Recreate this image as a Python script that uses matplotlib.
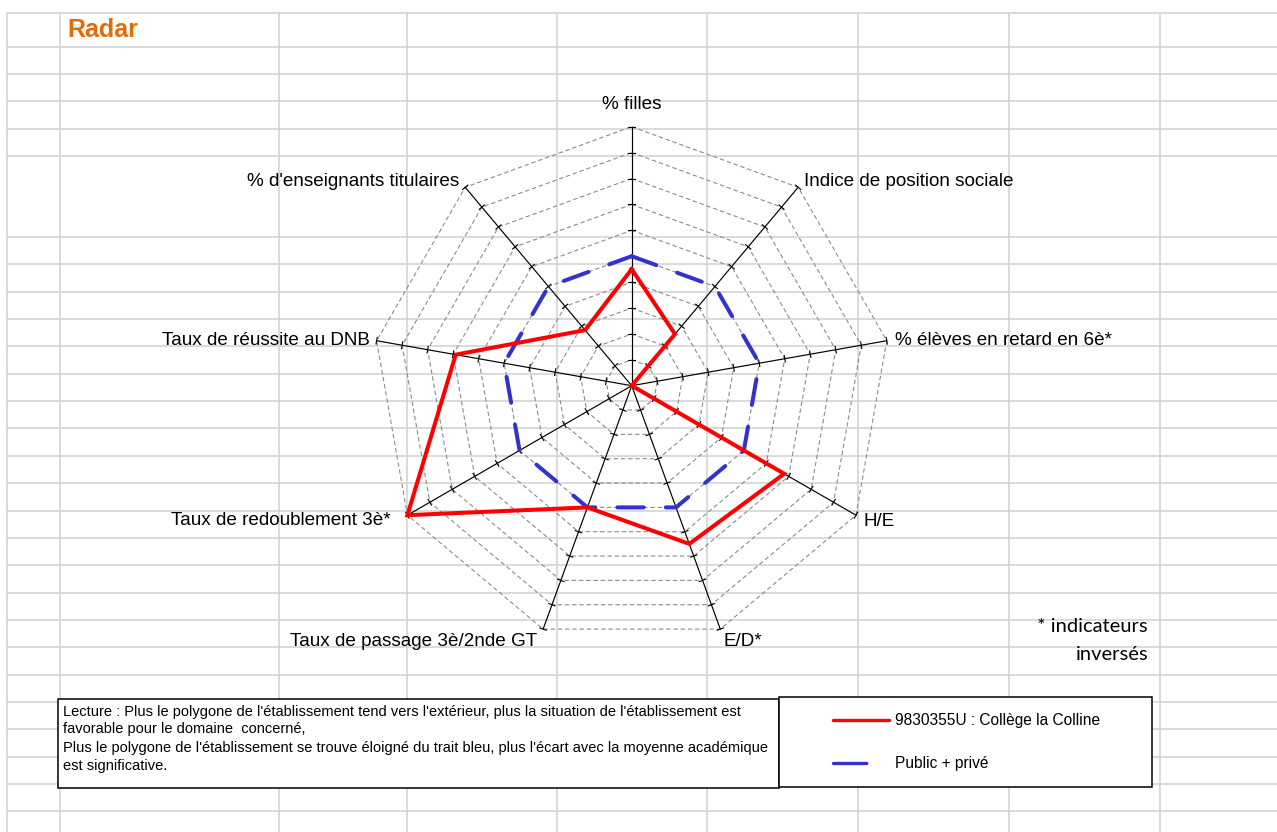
"""
Radar chart of one college vs the academy average, drawn over a spreadsheet-like grid.
"""

import numpy as np
import matplotlib
matplotlib.use("Agg")
import matplotlib.pyplot as plt
from matplotlib.lines import Line2D
from matplotlib.patches import Rectangle

# ── Data ───────────────────────────────────────────────────────────────────────
AXIS_LABELS = [
    "% filles",
    "Indice de position sociale",
    "% élèves en retard en 6è*",
    "H/E",
    "E/D*",
    "Taux de passage 3è/2nde GT",
    "Taux de redoublement 3è*",
    "Taux de réussite au DNB",
    "% d'enseignants titulaires",
]
COLLEGE_VALUES  = [4.5, 2.6, 0.0, 6.8, 6.5, 5.0, 10.0, 6.9, 2.8]
ACADEMIE_VALUES = [5.0, 5.0, 5.0, 5.0, 5.0, 5.0, 5.0, 5.0, 5.0]
RINGS           = [1, 2, 3, 4, 5, 6, 7, 8, 9, 10]
SERIES_NAMES    = ["9830355U : Collège la Colline", "Public + privé"]

TITLE      = "Radar"
FOOTNOTE   = ["* indicateurs", "inversés"]
LECTURE    = [
    "Lecture : Plus le polygone de l'établissement tend vers l'extérieur, plus la situation de l'établissement est",
    "favorable pour le domaine  concerné,",
    "Plus le polygone de l'établissement se trouve éloigné du trait bleu, plus l'écart avec la moyenne académique",
    "est significative.",
]

# ── Layout / style ─────────────────────────────────────────────────────────────
W, H      = 1277, 832
CX, CY, R = 631.7, 385.7, 259.0
RMAX      = 10

RED    = "#FF0000"
BLUE   = "#3333CC"
ORANGE = "#E36C0A"
GRID   = "#D4D4D4"

# label offsets from the end of each spoke (pixels, image y down) + alignment
LABEL_OFFSETS = [
    (0, -22, "center"),
    (6, -6, "left"),
    (8, 0, "left"),
    (7, 6, "left"),
    (3, 12, "left"),
    (-6, 12, "right"),
    (-17, 5, "right"),
    (-7, 0, "right"),
    (-6, -6, "right"),
]

plt.rcParams["font.family"] = ["Liberation Sans", "DejaVu Sans"]


def px_rect(x0, y0, x1, y1):
    """Pixel box (image coords) -> figure fraction rect."""
    return [x0 / W, 1 - y1 / H, (x1 - x0) / W, (y1 - y0) / H]


def draw_sheet(bg):
    """Spreadsheet cell grid behind everything."""
    rows = [13.3] + [46.7 + 27.35 * k for k in range(5)] + [237.0 + 27.35 * k for k in range(23)]
    cols = [7.3, 60.3, 279.3, 406.7, 556.5, 707.3, 858.2, 1009.0, 1160.0]
    bg.hlines(rows, 7.3, W, color=GRID, lw=1.2, zorder=0)
    bg.vlines(cols, 13.3, H, color=GRID, lw=1.2, zorder=0)


def draw_radar(ax):
    n      = len(AXIS_LABELS)
    theta  = np.arange(n) * 2 * np.pi / n
    closed = np.append(theta, theta[0])

    # ring polygons
    for k in RINGS:
        ax.plot(closed, [k] * (n + 1), color="#8C8C8C", lw=0.8,
                linestyle=(0, (4, 2.5)), clip_on=False, zorder=1)

    # spokes with small cross ticks
    h = 0.13
    for t in theta:
        ax.plot([t, t], [0, RMAX], color="black", lw=0.85, clip_on=False, zorder=2)
        for k in RINGS:
            a  = np.arctan(h / k)
            rr = np.hypot(k, h)
            ax.plot([t - a, t + a], [rr, rr], color="black", lw=0.8,
                    clip_on=False, zorder=2)

    # series
    ax.plot(closed, ACADEMIE_VALUES + ACADEMIE_VALUES[:1], color=BLUE, lw=2.9,
            linestyle=(0, (6.5, 5.5)), dash_capstyle="round", clip_on=False, zorder=4)
    ax.plot(closed, COLLEGE_VALUES + COLLEGE_VALUES[:1], color=RED, lw=2.9,
            solid_joinstyle="miter", clip_on=False, zorder=5)

    # axis labels
    for t, label, (dx, dy, ha) in zip(theta, AXIS_LABELS, LABEL_OFFSETS):
        ax.annotate(label, xy=(t, RMAX), xytext=(dx, -dy), textcoords="offset pixels",
                    ha=ha, va="center", fontsize=13.6, annotation_clip=False)


def main():
    fig = plt.figure(figsize=(W / 100, H / 100), dpi=100)
    fig.patch.set_facecolor("white")

    bg = fig.add_axes([0, 0, 1, 1])
    bg.set_xlim(0, W)
    bg.set_ylim(H, 0)
    bg.axis("off")
    draw_sheet(bg)

    bg.text(67, 30, TITLE, color=ORANGE, fontsize=18, fontweight="bold",
            ha="left", va="center")

    for y, line in zip([626, 654], FOOTNOTE):
        bg.text(1148, y, line, ha="right", va="center", fontsize=14.5,
                family=["Lato", "DejaVu Sans"])

    # reading note box
    bg.add_patch(Rectangle((58.3, 699.3), 721.0, 89.0, fc="white", ec="black",
                           lw=1.1, zorder=3))
    for y, line in zip([712, 729.5, 748, 766], LECTURE):
        bg.text(63, y, line, ha="left", va="center", fontsize=10.5, zorder=4)

    # legend box
    bg.add_patch(Rectangle((779.3, 697.3), 373.0, 90.0, fc="white", ec="black",
                           lw=1.1, zorder=5))

    ax = fig.add_axes(px_rect(CX - R, CY - R, CX + R, CY + R), projection="polar")
    ax.set_theta_offset(np.pi / 2)
    ax.set_theta_direction(-1)
    ax.set_ylim(0, RMAX)
    ax.set_axis_off()
    draw_radar(ax)

    handles = [
        Line2D([], [], color=RED, lw=2.4, solid_capstyle="round"),
        Line2D([], [], color=BLUE, lw=2.4, linestyle=(0, (10, 20)),
               dash_capstyle="round"),
    ]
    fig.legend(handles, SERIES_NAMES, loc="center left",
               bbox_to_anchor=(833 / W, 1 - 742 / H), frameon=False,
               fontsize=11.2, handlelength=3.6, handletextpad=0.39,
               labelspacing=1.8, borderpad=0, borderaxespad=0)

    fig.savefig("out.png", dpi=100)
    plt.close(fig)


if __name__ == "__main__":
    main()
